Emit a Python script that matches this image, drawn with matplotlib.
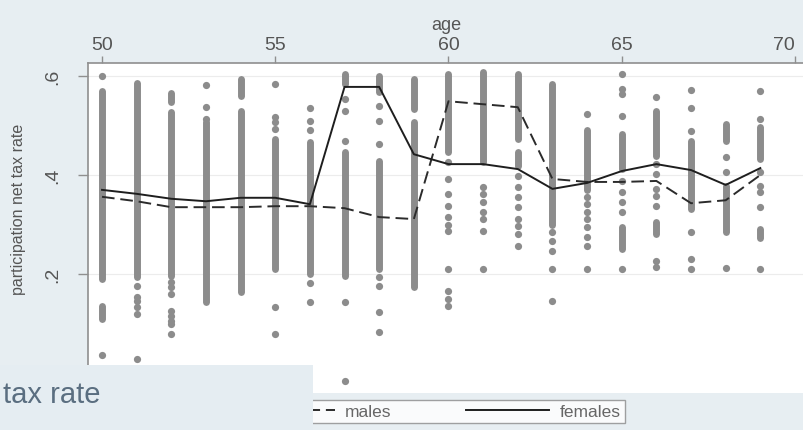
import matplotlib
matplotlib.use("Agg")
import matplotlib.pyplot as plt
from matplotlib.patches import Rectangle

plt.rcParams['font.family'] = ['Liberation Sans', 'DejaVu Sans']

# ---- data ----
ages = list(range(50, 70))
males = [0.356, 0.347, 0.335, 0.335, 0.335, 0.337, 0.337, 0.333, 0.315, 0.311,
         0.549, 0.543, 0.537, 0.392, 0.386, 0.386, 0.388, 0.343, 0.349, 0.400]
females = [0.370, 0.362, 0.352, 0.347, 0.354, 0.354, 0.341, 0.578, 0.578, 0.442,
           0.422, 0.422, 0.412, 0.372, 0.384, 0.408, 0.422, 0.410, 0.380, 0.414]

# dense vertical runs of individual observations (age, low, high)
band_age = [50, 50, 51, 52, 52, 53, 54, 54, 55, 56, 57, 57, 58, 58, 59, 59,
            60, 61, 62, 62, 63, 64, 65, 65, 66, 66, 67, 68, 68, 69, 69]
band_lo = [0.190, 0.110, 0.194, 0.547, 0.196, 0.143, 0.560, 0.164, 0.210, 0.200,
           0.584, 0.196, 0.568, 0.210, 0.533, 0.174, 0.446, 0.426, 0.473, 0.418,
           0.300, 0.370, 0.412, 0.250, 0.438, 0.281, 0.331, 0.469, 0.285, 0.432,
           0.272]
band_hi = [0.570, 0.135, 0.586, 0.565, 0.527, 0.507, 0.594, 0.529, 0.473, 0.467,
           0.604, 0.446, 0.600, 0.428, 0.594, 0.507, 0.604, 0.608, 0.604, 0.446,
           0.584, 0.490, 0.483, 0.295, 0.529, 0.305, 0.469, 0.503, 0.378, 0.497,
           0.290]

# isolated observations
dot_age = ([50] * 2 + [51] * 6 + [52] * 8 + [53] * 3 + [55] * 6 + [56] * 5 +
           [57] * 5 + [58] * 7 + [60] * 11 + [61] * 7 + [62] * 8 + [63] * 5 +
           [64] * 9 + [65] * 9 + [66] * 8 + [67] * 6 + [68] * 3 + [69] * 7)
dot_val = [0.600, 0.036,
           0.176, 0.154, 0.145, 0.133, 0.119, 0.028,
           0.184, 0.174, 0.160, 0.125, 0.115, 0.105, 0.099, 0.079,
           0.582, 0.537, 0.513,
           0.584, 0.517, 0.507, 0.493, 0.133, 0.079,
           0.535, 0.509, 0.491, 0.182, 0.143,
           0.554, 0.529, 0.469, 0.143, -0.016,
           0.539, 0.509, 0.463, 0.194, 0.176, 0.123, 0.083,
           0.426, 0.392, 0.362, 0.337, 0.315, 0.300, 0.287, 0.210, 0.166, 0.150, 0.135,
           0.376, 0.362, 0.345, 0.325, 0.311, 0.287, 0.210,
           0.398, 0.376, 0.356, 0.335, 0.311, 0.297, 0.281, 0.257,
           0.285, 0.267, 0.246, 0.210, 0.145,
           0.523, 0.356, 0.341, 0.325, 0.311, 0.295, 0.275, 0.257, 0.210,
           0.604, 0.574, 0.564, 0.519, 0.388, 0.366, 0.345, 0.325, 0.210,
           0.558, 0.422, 0.402, 0.372, 0.358, 0.337, 0.226, 0.214,
           0.572, 0.535, 0.489, 0.285, 0.230, 0.210,
           0.436, 0.406, 0.212,
           0.570, 0.513, 0.406, 0.378, 0.366, 0.335, 0.210]

xticks = [50, 55, 60, 65, 70]
yticks = [0.2, 0.4, 0.6]
ytick_labels = ['.2', '.4', '.6']
series_names = ['males', 'females']

# ---- figure ----
W, H = 804, 431
bg = '#e7eef2'
fig = plt.figure(figsize=(W / 100, H / 100), dpi=100, facecolor=bg)
ax = fig.add_axes([88 / W, 1 - 394 / H, (W - 88) / W, (394 - 64) / H])
ax.set_facecolor('white')

pt_col = '#8c8c8c'
for a, lo, hi in zip(band_age, band_lo, band_hi):
    ax.plot([a, a], [lo, hi], color=pt_col, lw=5, solid_capstyle='round', zorder=2)
ax.plot(dot_age, dot_val, 'o', color=pt_col, ms=5.2, mec='none', zorder=2)

lm, = ax.plot(ages, males, color='#2b2b2b', lw=1.4, dashes=(6.5, 3.0), zorder=4,
              label=series_names[0])
lf, = ax.plot(ages, females, color='#1e1e1e', lw=1.4, zorder=4, label=series_names[1])

ax.set_xlim(49.596, 70.26)
ax.set_ylim(-0.0404, 0.6263)

for s in ['right', 'bottom']:
    ax.spines[s].set_visible(False)
for s in ['left', 'top']:
    ax.spines[s].set_color('#8f8f8f')
    ax.spines[s].set_linewidth(1.2)

ax.xaxis.tick_top()
ax.xaxis.set_label_position('top')
ax.set_xticks(xticks)
ax.tick_params(axis='x', colors='#8f8f8f', labelcolor='#555555', length=5,
               width=1, labelsize=14, pad=2)
ax.set_xlabel('age', fontsize=13, color='#555555', labelpad=5)
# the last tick label sits at the right edge of the figure
ax.figure.canvas.draw()
for lab in ax.get_xticklabels():
    if lab.get_text() == '70':
        lab.set_horizontalalignment('right')

ax.set_yticks(yticks)
ax.set_yticklabels(ytick_labels, rotation=90, va='center')
ax.tick_params(axis='y', colors='#8f8f8f', labelcolor='#555555', length=7,
               width=1, labelsize=14, pad=12)
ax.grid(axis='y', color='#ececec', lw=0.8)
ax.set_axisbelow(True)

fig.text(19 / W, 1 - 209 / H, 'participation net tax rate', rotation=90,
         ha='center', va='center', fontsize=11.5, color='#555555')

leg = fig.legend(handles=[lm, lf], labels=series_names, ncol=2, loc='center',
                 bbox_to_anchor=(436 / W, 1 - 412.5 / H), frameon=True,
                 fancybox=False, edgecolor='#8a8a8a', facecolor='white',
                 fontsize=12.5, handlelength=4.8, handletextpad=0.57,
                 columnspacing=4.3, borderpad=0.25, labelcolor='#666666')
leg.get_frame().set_linewidth(1.0)
leg.set_zorder(5)

# slide overlay at the lower left
fig.patches.append(Rectangle((0, 0), 313 / W, 1 - 366 / H, transform=fig.transFigure,
                             facecolor='#e5edf2', edgecolor='none', zorder=10))
fig.text(3 / W, 1 - 395 / H, 'tax rate', ha='left', va='center', fontsize=21,
         color='#5a6e80', zorder=11)

fig.savefig('out.png', dpi=100, facecolor=bg)
